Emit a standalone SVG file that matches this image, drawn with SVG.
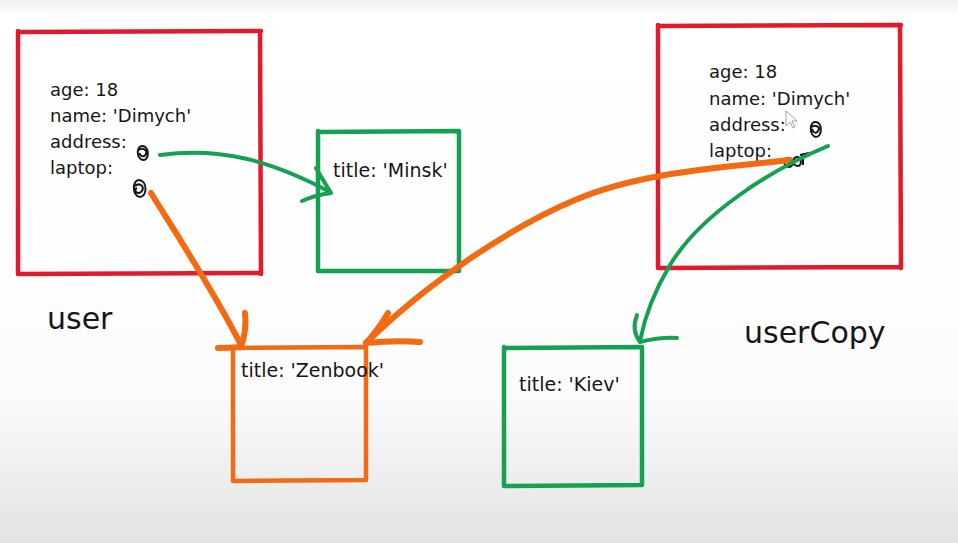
<svg xmlns="http://www.w3.org/2000/svg" width="958" height="543" viewBox="0 0 958 543">
<defs>
<linearGradient id="bg" x1="0" y1="0" x2="0" y2="1">
<stop offset="0" stop-color="#efefef"/>
<stop offset="0.03" stop-color="#ffffff"/>
<stop offset="0.72" stop-color="#fcfcfc"/>
<stop offset="1" stop-color="#e3e3e3"/>
</linearGradient>
</defs>
<style>
.red{fill:none;stroke:#e11a2c;stroke-width:4.5;stroke-linecap:round;stroke-linejoin:round}
.grn{fill:none;stroke:#16a152;stroke-width:4.5;stroke-linecap:round;stroke-linejoin:round}
.org{fill:none;stroke:#f26a12;stroke-width:4.5;stroke-linecap:round;stroke-linejoin:round}
.ca{fill:none;stroke:#16a152;stroke-width:4;stroke-linecap:round;stroke-linejoin:round}
.co{fill:none;stroke:#f26a12;stroke-width:6;stroke-linecap:round;stroke-linejoin:round}
.t{font-family:"DejaVu Sans",sans-serif;font-size:18px;fill:#161616}
.tt{font-family:"DejaVu Sans",sans-serif;font-size:19px;fill:#161616}
.lbl{font-family:"DejaVu Sans",sans-serif;font-size:30px;fill:#161616}
.sc{fill:none;stroke:#161616;stroke-width:2}
</style>
<rect width="958" height="543" fill="url(#bg)"/>

<g id="user">
<path class="red" d="M18,32 L261,31 M260,31 L261,274 M261,273 L18,274 M18,274 L18,31"/>
<text class="t" x="50" y="96">age: 18</text>
<text class="t" x="50" y="122">name: 'Dimych'</text>
<text class="t" x="50" y="148">address:</text>
<text class="t" x="50" y="174">laptop:</text>
<path class="sc" d="M143,146 C136,145 136,159 143,160 C149,161 150,147 143,146 M139,150 C142,147 148,150 146,154 C144,158 139,156 140,153"/>
<path class="sc" d="M139,180 C132,180 132,196 140,197 C147,197 148,181 139,180 M135,186 C140,182 146,187 141,192 C137,195 133,190 137,188"/>
<text class="lbl" x="47" y="329">user</text>
</g>

<g id="userCopy">
<path class="red" d="M658,26 L901,25 M900,25 L901,268 M901,267 L658,268 M658,268 L658,25"/>
<text class="t" x="709" y="78">age: 18</text>
<text class="t" x="709" y="105">name: 'Dimych'</text>
<text class="t" x="709" y="131">address:</text>
<text class="t" x="709" y="157">laptop:</text>
<path class="sc" d="M816,122 C809,121 809,136 816,137 C822,137 823,123 816,122 M812,127 C815,124 821,127 818,131 C816,135 811,131 813,129"/>
<path class="sc" d="M788,158 C783,158 783,167 789,167 C794,167 794,158 788,158 M797,157 C792,157 792,166 798,166 C802,166 802,157 797,157 M800,155 L809,153 M803,155 L803,165"/>
<path d="M786,111 L786,126 L790,122 L793,128 L795,127 L792,121 L797,121 Z" fill="#ffffff" stroke="#888" stroke-width="0.8"/>
<text class="lbl" x="744" y="343">userCopy</text>
</g>

<g id="minsk">
<path class="grn" d="M318,132 L459,131 M459,131 L459,271 M459,271 L318,271 M318,271 L318,131"/>
<text class="tt" x="333" y="177">title: 'Minsk'</text>
</g>

<g id="zenbook">
<path class="org" d="M233,348 L366,347 M366,347 L366,480 M366,480 L233,481 M233,481 L233,347"/>
<text class="tt" x="241" y="377">title: 'Zenbook'</text>
</g>

<g id="kiev">
<path class="grn" d="M504,348 L642,347 M642,347 L642,485 M642,485 L504,486 M504,486 L504,347"/>
<text class="tt" x="519" y="391">title: 'Kiev'</text>
</g>

<g id="connectors">
<path class="ca" d="M160,155 C220,147 270,160 330,192"/>
<path class="ca" d="M316,168 Q323,180 331,193 M302,201 Q315,195 331,193"/>
<path class="co" d="M151,193 C175,232 212,288 241,345"/>
<path class="co" d="M245,313 Q247,330 241,347 M218,348 Q230,348 241,347"/>
<path class="co" d="M790,160 C720,168 640,172 575,200 C515,225 430,280 366,343"/>
<path class="co" d="M388,313 Q378,330 366,343 M420,342 Q395,340 366,343"/>
<path class="ca" d="M828,146 C770,170 700,215 670,265 C655,290 645,315 640,341"/>
<path class="ca" d="M637,315 Q631,330 640,342 M677,338 Q660,337 640,342"/>
</g>
</svg>
